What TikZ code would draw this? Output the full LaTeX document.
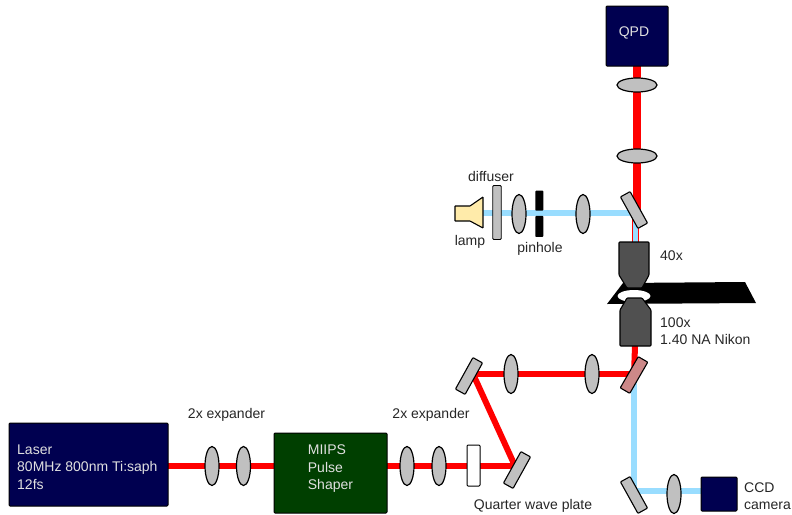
\documentclass[tikz,border=0pt]{standalone}
\usepackage{fontspec}
\setmainfont{Liberation Sans}
\usepackage{xcolor}
\usetikzlibrary{backgrounds, positioning, calc, shapes.geometric}
\definecolor{beamred}{HTML}{FF0000}
\definecolor{beamblue}{HTML}{99DDFF}
\definecolor{optgray}{HTML}{C0C0C0}
\definecolor{objgray}{HTML}{505050}
\definecolor{navybox}{HTML}{000050}
\definecolor{greenbox}{HTML}{003F00}
\definecolor{lampyellow}{HTML}{FFEBAA}
\definecolor{dichroic}{HTML}{CC8888}
\definecolor{boxtext}{HTML}{E0E0E0}

\tikzset{
  lbl/.style={font=\fontsize{14}{17.5}\selectfont, text=black!85, inner sep=0pt, align=left},
  boxlbl/.style={lbl, text=boxtext},
  box/.style={draw=black, line width=1pt, rounded corners=1pt, inner sep=0pt, outer sep=0pt},
  lensv/.style={ellipse, draw=black, line width=1.2pt, fill=optgray, minimum width=14pt, minimum height=39pt, inner sep=0pt, outer sep=0pt},
  lensh/.style={ellipse, draw=black, line width=1.2pt, fill=optgray, minimum width=40pt, minimum height=14pt, inner sep=0pt, outer sep=0pt},
  mirror/.style={rectangle, draw=black, line width=1.1pt, rounded corners=0.8pt, fill=optgray, minimum width=36pt, minimum height=11pt, inner sep=0pt, outer sep=0pt},
  pinblock/.style={rectangle, fill=black, rounded corners=0.8pt, minimum width=8pt, inner sep=0pt},
  redbeam/.style={draw=beamred, line width=6pt},
  bluebeam/.style={draw=beamblue, line width=5.5pt},
  objective/.style={draw=black, line width=1.1pt, fill=objgray, rounded corners=0.8pt},
}

\begin{document}
\begin{tikzpicture}[x=1pt, y=-1pt]
  \useasboundingbox (0,0) rectangle (792,514);

  % sources and detectors
  \node[box, fill=navybox, minimum width=159pt, minimum height=83pt] (laser) at (88.5,464.5) {};
  \node[box, fill=greenbox, minimum width=113pt, minimum height=80pt] (shaper) at (330.5,473) {};
  \node[box, fill=navybox, minimum width=62pt, minimum height=60pt] (qpd) at (637,36) {};
  \node[box, fill=navybox, minimum width=36pt, minimum height=34pt] (ccd) at (719,494) {};
  \node[boxlbl, anchor=west] (lbllaser) at (17,467) {Laser\\80MHz 800nm Ti:saph\\12fs};
  \node[boxlbl, anchor=west] (lblshaper) at (307.7,469) {MIIPS\\Pulse\\Shaper};
  \node[boxlbl] (lblqpd) at (634,32.5) {QPD};

  % input arm
  \node[lensv] (lensa) at (212,466) {};
  \node[lensv] (lensb) at (243.5,466) {};
  \node[lensv] (lensc) at (407,466) {};
  \node[lensv] (lensd) at (439,466) {};
  \node[box, fill=white, minimum width=13pt, minimum height=41pt] (qwp) at (473.5,465.5) {};
  \node[mirror, rotate=61] (mirlow) at (517,470) {};
  \node[mirror, rotate=61] (mirup) at (469,376) {};
  \node[lensv] (lense) at (511,374) {};
  \node[lensv] (lensf) at (592,374) {};
  \node[mirror, rotate=60, fill=dichroic] (mirdi) at (634,375) {};
  \coordinate (turnlow) at (515,466);
  \coordinate (turnup) at (473,374);

  % camera arm
  \node[mirror, rotate=-61] (mircam) at (634,495) {};
  \node[lensv] (lensg) at (674,494) {};
  \coordinate (turncam) at (634,491);

  % detection arm
  \node[lensh] (lensh) at (637,85) {};
  \node[lensh] (lensi) at (637,156) {};
  \node[mirror, rotate=-61] (mirtop) at (634,210) {};

  % lamp arm
  \coordinate (lampout) at (483,213);
  \draw[draw=black, line width=1.1pt, fill=lampyellow, rounded corners=0.5pt] (455,206) -- (470,206) -- (483,197) -- (483,228) -- (470,221) -- (455,221) -- cycle;
  \node[box, fill=optgray, line width=0.9pt, minimum width=8.5pt, minimum height=54pt] (diffuser) at (497,212.5) {};
  \node[lensv] (lensj) at (519,214) {};
  \node[pinblock, minimum height=20pt] (pinup) at (539.3,200.7) {};
  \node[pinblock, minimum height=21pt] (pindown) at (539.3,226.4) {};
  \node[lensv] (lensk) at (583,214) {};

  % sample and objectives
  \fill[black] (607,304) -- (623,283) -- (745,282) -- (756,303) -- cycle;
  \fill[white] (634,296) ellipse (16.5 and 6);
  \draw[objective] (619,242) -- (649,242) -- (649,275) -- (642,288) -- (627,288) -- (619,275) -- cycle;
  \draw[objective] (627,298) -- (642,298) -- (651,310) -- (651,346) -- (620,346) -- (620,310) -- cycle;
  \coordinate (objtop) at (635.5,242);
  \coordinate (objbot) at (635,346);

  % beams
  \begin{scope}[on background layer]
    \draw[redbeam] (laser.east |- lensa) -- (shaper.west |- lensa);
    \draw[redbeam] (shaper.east |- lensc) -- (turnlow);
    \draw[redbeam] (turnlow) -- (turnup);
    \draw[redbeam] (turnup) -- (turnup -| mirdi.center);
    \draw[redbeam] (objbot) -- (mirdi.center);
    \draw[redbeam, line width=8pt] (qpd.south) -- (qpd.south |- mirtop.center);
    \draw[redbeam, line width=7.5pt] (mirtop.center -| objtop) -- (objtop);
    \draw[bluebeam, line width=4.5pt] (mirtop.center -| objtop) -- (objtop);
    \draw[bluebeam] (lampout) -- (lampout -| mirtop.center);
    \draw[bluebeam] (mirdi.center) -- (turncam) -- (ccd.west |- turncam);
  \end{scope}

  % labels
  \node[lbl] (lblexpa) at (226.5,414.5) {2x expander};
  \node[lbl] (lblexpb) at (431,414.5) {2x expander};
  \node[lbl] (lblqwp) at (533,505.5) {Quarter wave plate};
  \node[lbl, anchor=west] (lblccd) at (744,496) {CCD\\camera};
  \node[lbl] (lbldiff) at (491,176.5) {diffuser};
  \node[lbl] (lbllamp) at (470,241.5) {lamp};
  \node[lbl] (lblpin) at (540,248.5) {pinhole};
  \node[lbl, anchor=west] (lblforty) at (660,256) {40x};
  \node[lbl, anchor=west] (lblhund) at (660,331) {100x\\1.40 NA Nikon};
\end{tikzpicture}
\end{document}
